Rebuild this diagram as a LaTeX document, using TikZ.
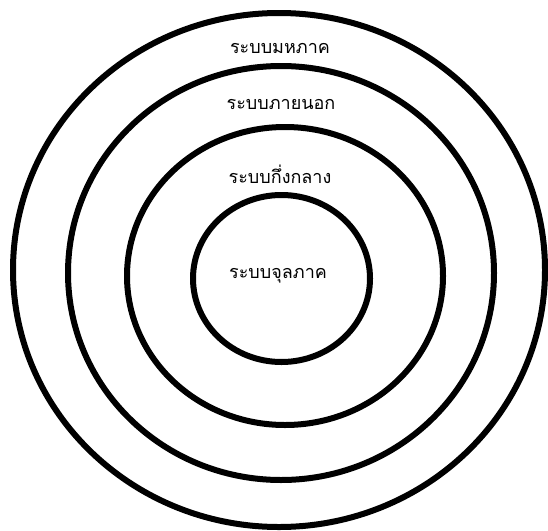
\documentclass[tikz,border=0pt]{standalone}
\usepackage{fontspec}
\newfontfamily\thaifont[Script=Thai]{Loma}
\begin{document}
\begin{tikzpicture}[x=1pt,y=-1pt,
  ring/.style={draw=black,line width=6pt},
  lbl/.style={font=\thaifont\fontsize{18}{20}\selectfont,inner sep=0pt,anchor=center}]
\useasboundingbox (0,0) rectangle (548,530);
\draw[ring] (279,270) ellipse (266 and 257);
\draw[ring] (281,273) ellipse (213 and 207);
\draw[ring] (285,276) ellipse (158 and 149);
\draw[ring] (281.5,278.5) ellipse (88.5 and 83.5);
\node[lbl] (macro) at (280,48) {ระบบมหภาค};
\node[lbl] (exo) at (281,104) {ระบบภายนอก};
\node[lbl] (meso) at (280,174) {ระบบกึ่งกลาง};
\node[lbl] (micro) at (278,276) {ระบบจุลภาค};
\end{tikzpicture}
\end{document}
